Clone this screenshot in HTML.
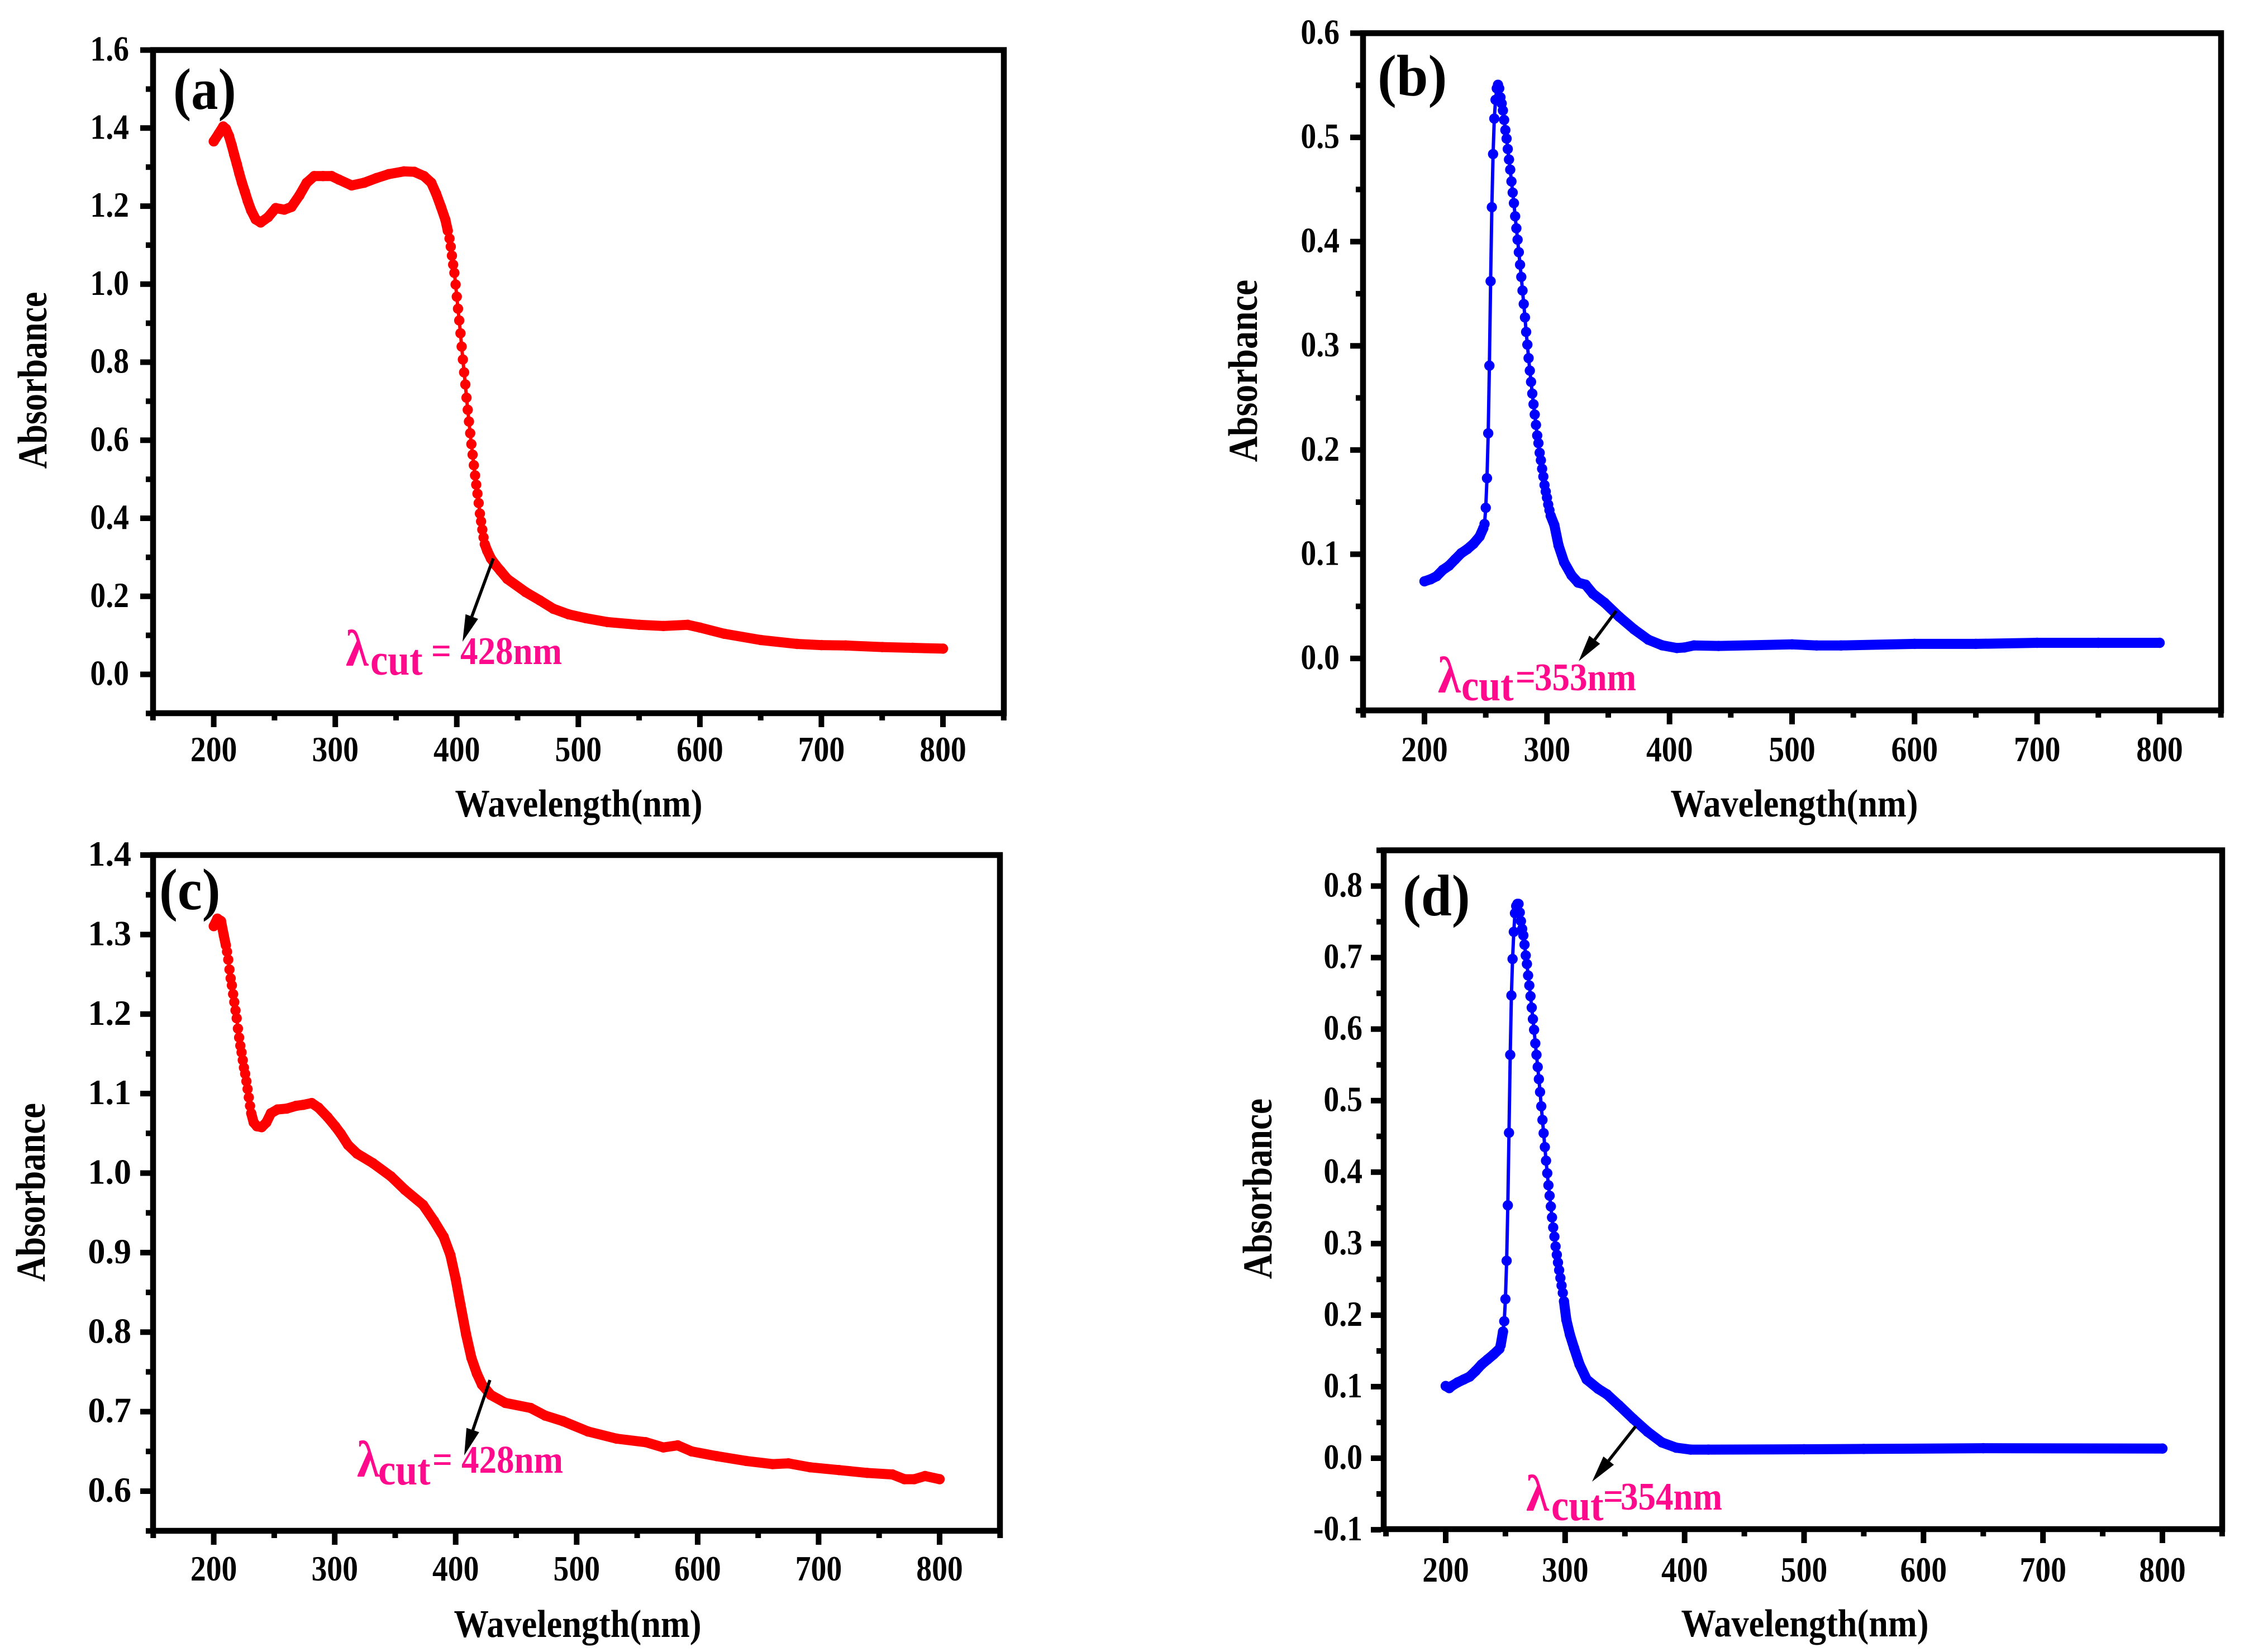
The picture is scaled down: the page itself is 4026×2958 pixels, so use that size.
<!DOCTYPE html>
<html lang="en">
<head>
<meta charset="utf-8">
<title>UV-Vis absorbance spectra</title>
<style>
html,body{margin:0;padding:0;background:#fff;}
svg{display:block;}
text{font-family:"Liberation Serif","DejaVu Serif",serif;font-weight:bold;}
</style>
</head>
<body>
<svg id="figure" xmlns="http://www.w3.org/2000/svg" width="4026" height="2958" viewBox="0 0 4026 2958">
<rect x="0" y="0" width="4026" height="2958" fill="#fff"/>

<text transform="translate(310,195) scale(.92,1)" font-size="105" fill="#000">(a)</text>
<text transform="translate(2466,171) scale(.97,1)" font-size="105" fill="#000">(b)</text>
<text transform="translate(285,1628) scale(.94,1)" font-size="105" fill="#000">(c)</text>
<text transform="translate(2511,1639) scale(.94,1)" font-size="105" fill="#000">(d)</text>

<g id="overlays" fill="#ff0a8c">
<g>
<text transform="translate(619,1192) scale(.9,1)" font-size="92">λ</text>
<text transform="translate(663,1208) scale(.9,1)" font-size="78">cut</text>
<text transform="translate(772,1189) scale(.9,1)" font-size="70">=</text>
<text transform="translate(824,1189) scale(.9,1)" font-size="70">428nm</text>
</g>
<g>
<text transform="translate(2574,1240) scale(.9,1)" font-size="92">λ</text>
<text transform="translate(2616,1254) scale(.9,1)" font-size="78">cut</text>
<text transform="translate(2713,1236) scale(.9,1)" font-size="70">=</text>
<text transform="translate(2747,1236) scale(.9,1)" font-size="70">353nm</text>
</g>
<g>
<text transform="translate(639,2644) scale(.9,1)" font-size="92">λ</text>
<text transform="translate(677,2658) scale(.9,1)" font-size="78">cut</text>
<text transform="translate(774,2637) scale(.9,1)" font-size="70">=</text>
<text transform="translate(826,2637) scale(.9,1)" font-size="70">428nm</text>
</g>
<g>
<text transform="translate(2732,2705) scale(.9,1)" font-size="92">λ</text>
<text transform="translate(2777,2722) scale(.9,1)" font-size="78">cut</text>
<text transform="translate(2870,2703) scale(.9,1)" font-size="70">=</text>
<text transform="translate(2901,2703) scale(.9,1)" font-size="70">354nm</text>
</g>
</g>
</svg>
<script>
// ---------- tick labels ----------
var xTickLabels = ['200','300','400','500','600','700','800'];
var yTickLabelsA = ['0.0','0.2','0.4','0.6','0.8','1.0','1.2','1.4','1.6'];
var yTickLabelsB = ['0.0','0.1','0.2','0.3','0.4','0.5','0.6'];
var yTickLabelsC = ['0.6','0.7','0.8','0.9','1.0','1.1','1.2','1.3','1.4'];
var yTickLabelsD = ['-0.1','0.0','0.1','0.2','0.3','0.4','0.5','0.6','0.7','0.8'];

// ---------- series values ----------
var wavelengthsA = [200,204,207.8,210,212.5,214.8,216.8,219,221,223.2,225.6,228,230.8,234.5,238.6,244.8,251,258,264,270.4,276.5,282.7,290,297,303,313.5,323.8,334,344,356.6,365,373,379,383,387,390.6,392.6,394,395,396,397,398,399,400,401,402,403,404,405,406,407,408,409,410,411,412,413,414,415,416,417,418,419,420,421,422,423,425,428,432,436,441.6,456.6,468.3,479.5,492,506,524,550,570,590,600,620,650,680,700,720,750,775,800];
var absorbanceA = [1.366,1.385,1.404,1.398,1.38,1.356,1.332,1.308,1.284,1.26,1.237,1.213,1.189,1.166,1.158,1.172,1.195,1.191,1.198,1.227,1.26,1.277,1.277,1.277,1.268,1.253,1.26,1.272,1.282,1.289,1.288,1.277,1.26,1.232,1.198,1.165,1.137,1.117,1.096,1.073,1.05,1.029,.999,.968,.937,.907,.874,.84,.807,.774,.743,.709,.678,.648,.618,.59,.563,.536,.51,.486,.463,.439,.412,.392,.371,.351,.3335,.317,.297,.28,.265,.2444,.211,.1896,.168,.1539,.144,.134,.127,.124,.127,.12,.104,.088,.078,.075,.074,.07,.068,.066];

var wavelengthsB = [200,205,210,215,220,225,230,235,240,245,248,249,250,251,252,253,254,255,256,257,258,259,260,261,262,263,264,265,266,267,268,269,270,271,272,273,274,275,276,277,278,279,280,281,282,283,284,285,286,287,288,289,290,291,292,293,294,295,296,297,298,299,300,301,302,303,306,309.4,314,320,325.4,331.5,337.5,347,359,371,382.7,394,406,412,420,440,500,520,540,600,650,700,750,800];
var absorbanceB = [.074,.076,.079,.085,.089,.095,.101,.105,.110,.117,.125,.129,.1446,.173,.216,.281,.362,.433,.484,.518,.536,.547,.5505,.547,.5385,.5326,.5259,.5168,.507,.4988,.4888,.4788,.469,.4577,.447,.4369,.4243,.4128,.4018,.3898,.3778,.3661,.353,.3401,.3272,.3133,.3011,.2882,.2762,.2654,.2542,.2439,.2341,.2241,.214,.2066,.1973,.1902,.182,.1745,.1664,.1602,.1543,.1477,.1423,.137,.128,.1084,.0923,.0798,.0728,.0708,.0621,.0535,.04,.028,.018,.0126,.01,.0105,.0125,.012,.0135,.0125,.0125,.014,.014,.015,.015,.015];

var wavelengthsC = [200,203,206,208.3,210,211,212,213,214,215,216,217,218,219,220,221,222,223,224,225,226,227,228,229,230,231,233,235.7,239.6,243.5,247.3,252.7,260.4,268,274,281,286.6,294,300.4,305,311,318.5,331.6,346.4,358,373,382,390,395.6,400,404,408.6,413,417.5,421.7,429,441,462,474,488.7,509.4,533,557,571.7,583.5,595,616,640,662,675,693,717,740,761,771,779,788,800];
var absorbanceC = [1.3106,1.32,1.317,1.2989,1.2865,1.2785,1.2684,1.256,1.245,1.2361,1.2251,1.2151,1.2047,1.1947,1.1818,1.1705,1.1602,1.1518,1.142,1.1326,1.1249,1.1155,1.1057,1.0952,1.0846,1.0753,1.0636,1.0589,1.0577,1.0636,1.0753,1.08,1.0811,1.0846,1.0858,1.0881,1.0823,1.0706,1.0589,1.0495,1.0354,1.0245,1.0125,.996,.979,.96,.94,.92,.897,.867,.834,.797,.7675,.748,.734,.721,.711,.7046,.695,.688,.675,.666,.6616,.655,.6576,.65,.644,.638,.634,.635,.63,.6265,.623,.621,.615,.615,.619,.615];

var wavelengthsD = [200,203,205,210,215,220,225,230,235,240,245,246,248,249,250,251,252,253,254,255,256,257,258,259,260,261,262,263,264,265,266,267,268,269,270,271,272,273,274,275,276,277,278,279,280,281,282,283,284,285,286,287,288,289,290,291,292,293,294,295,296,297,298,299,301,304,307.4,312,318,327.6,335,345,357,369,381,393,405,420,500,550,650,800];
var absorbanceD = [.101,.098,.101,.106,.110,.114,.122,.131,.138,.145,.153,.158,.177,.1915,.2225,.276,.3536,.455,.564,.647,.698,.736,.762,.772,.775,.775,.763,.751,.74,.731,.718,.703,.691,.675,.661,.646,.63,.614,.599,.58,.564,.547,.53,.512,.492,.473,.4545,.435,.416,.3985,.3816,.367,.352,.3366,.3226,.3098,.2962,.2845,.2736,.2629,.252,.2415,.2311,.2194,.1934,.1726,.1544,.1312,.1101,.0971,.0893,.074,.055,.037,.022,.0147,.012,.012,.0125,.013,.014,.0135];

// ---------- drawing ----------
var svgNS = 'http://www.w3.org/2000/svg';
var root = document.getElementById('figure');
var overlays = document.getElementById('overlays');

function make(tag, parent, attrs) {
  var el = document.createElementNS(svgNS, tag);
  for (var k in attrs) el.setAttribute(k, attrs[k]);
  parent.appendChild(el);
  return el;
}

function linear(d0, d1, r0, r1) {
  return function (v) { return r0 + (v - d0) * (r1 - r0) / (d1 - d0); };
}

function drawPanel(p) {
  var xScale = linear(200, 800, p.x200, p.x800);
  var yScale = linear(p.refLow, p.refHigh, p.yRefLow, p.yRefHigh);

  var g = make('g', root, {});
  
  

  // series
  var series = make('g', g, {});
  
  
  var i, pts = [];
  for (i = 0; i < p.wave.length; i++) pts.push(xScale(p.wave[i]).toFixed(1) + ',' + yScale(p.abs[i]).toFixed(1));
  var line = make('polyline', series, {points: pts.join(' '), fill: 'none', stroke: p.color, 'stroke-width': 6, 'stroke-linejoin': 'round'});
  
  
  for (i = 1; i < p.wave.length; i++) {
    if (p.wave[i] - p.wave[i - 1] >= 1.5) {
      var band = make('line', series, {
        x1: xScale(p.wave[i - 1]).toFixed(1), y1: yScale(p.abs[i - 1]).toFixed(1),
        x2: xScale(p.wave[i]).toFixed(1), y2: yScale(p.abs[i]).toFixed(1),
        stroke: p.color, 'stroke-width': 18, 'stroke-linecap': 'round'
      });
      
      
    }
  }
  for (i = 0; i < p.wave.length; i++) {
    var dot = make('circle', series, {cx: xScale(p.wave[i]).toFixed(1), cy: yScale(p.abs[i]).toFixed(1), r: 9.2, fill: p.color});
    
    
  }

  // frame
  var frame = make('rect', g, {x: p.left, y: p.top, width: p.right - p.left, height: p.bottom - p.top, fill: 'none', stroke: '#000', 'stroke-width': 10.5});
  
  

  // x ticks
  var outerBottom = p.bottom + 5, outerLeft = p.left - 5;
  var v, t;
  for (v = 150; v <= 850; v += 50) {
    var isMajorX = (v % 100 === 0) && v >= 200 && v <= 800;
    t = make('line', g, {x1: xScale(v).toFixed(1), x2: xScale(v).toFixed(1), y1: outerBottom, y2: outerBottom + (isMajorX ? 20 : 8), stroke: '#000', 'stroke-width': 10});
    
    
  }
  xTickLabels.forEach(function (lab) {
    var el = make('text', g, {transform: 'translate(' + xScale(+lab).toFixed(1) + ',' + p.xLabelY + ') scale(.87,1)', 'font-size': 64, 'text-anchor': 'middle', fill: '#000'});
    el.textContent = lab;
    
    
  });

  // y ticks
  var n = Math.round((p.yHigh - p.yLow) / p.yStep);
  for (i = 0; i <= n; i++) {
    v = p.yLow + i * p.yStep;
    var isMajorY = p.yLabels.some(function (s) { return Math.abs(parseFloat(s) - v) < 1e-6; });
    t = make('line', g, {x1: outerLeft - (isMajorY ? 18 : 8), x2: outerLeft, y1: yScale(v).toFixed(1), y2: yScale(v).toFixed(1), stroke: '#000', 'stroke-width': 10});
    
    
  }
  p.yLabels.forEach(function (lab) {
    var el = make('text', g, {transform: 'translate(' + p.yLabelRight + ',' + (yScale(parseFloat(lab)) + 19).toFixed(1) + ') scale(' + p.yLabelSx + ',1)', 'font-size': 64, 'text-anchor': 'end', fill: '#000'});
    el.textContent = lab;
    
    
  });

  // axis titles
  var xt = make('text', g, {transform: 'translate(' + p.xTitleX + ',' + p.xTitleY + ') scale(.89,1)', 'font-size': 70, 'text-anchor': 'middle', fill: '#000'});
  xt.textContent = 'Wavelength(nm)';
  
  
  var yt = make('text', g, {transform: 'translate(' + p.yTitleX + ',' + p.yTitleY + ') rotate(-90) scale(' + p.yTitleS + ',1.2)', 'font-size': 62, 'text-anchor': 'middle', fill: '#000'});
  yt.textContent = 'Absorbance';
  
  

  // arrow
  var dx = p.arrow.x2 - p.arrow.x1, dy = p.arrow.y2 - p.arrow.y1, len = Math.sqrt(dx * dx + dy * dy);
  var ux = dx / len, uy = dy / len, hl = 48, hw = 12;
  var bx = p.arrow.x2 - ux * hl, by = p.arrow.y2 - uy * hl;
  var shaft = make('line', overlays, {x1: p.arrow.x1, y1: p.arrow.y1, x2: bx.toFixed(1), y2: by.toFixed(1), stroke: '#000', 'stroke-width': 5.5});
  
  
  var head = make('polygon', overlays, {
    points: p.arrow.x2 + ',' + p.arrow.y2 + ' ' + (bx - uy * hw).toFixed(1) + ',' + (by + ux * hw).toFixed(1) + ' ' + (bx + uy * hw).toFixed(1) + ',' + (by - ux * hw).toFixed(1),
    fill: '#000'
  });
  
  
}

drawPanel({wave: wavelengthsA, abs: absorbanceA, color: '#ff0000', yLabels: yTickLabelsA,
  left: 274, right: 1797, top: 89.6, bottom: 1277, x200: 382.6, x800: 1688,
  refLow: 0, refHigh: 1.6, yRefLow: 1207.5, yRefHigh: 89.6, yLow: -0.1, yHigh: 1.6, yStep: 0.1,
  xLabelY: 1363, yLabelRight: 231, yLabelSx: .87, xTitleX: 1036, xTitleY: 1462, yTitleX: 83, yTitleY: 681, yTitleS: 1,
  arrow: {x1: 883, y1: 1000, x2: 828, y2: 1149}});

drawPanel({wave: wavelengthsB, abs: absorbanceB, color: '#0000ff', yLabels: yTickLabelsB,
  left: 2440, right: 3976, top: 59.4, bottom: 1272, x200: 2550, x800: 3866,
  refLow: 0, refHigh: 0.6, yRefLow: 1179, yRefHigh: 59.4, yLow: -0.05, yHigh: 0.6, yStep: 0.05,
  xLabelY: 1363, yLabelRight: 2398, yLabelSx: .87, xTitleX: 3212, xTitleY: 1462, yTitleX: 2250, yTitleY: 664, yTitleS: 1.03,
  arrow: {x1: 2893, y1: 1094, x2: 2826, y2: 1184}});

drawPanel({wave: wavelengthsC, abs: absorbanceC, color: '#ff0000', yLabels: yTickLabelsC,
  left: 274, right: 1790, top: 1531, bottom: 2741, x200: 382.6, x800: 1682,
  refLow: 0.6, refHigh: 1.4, yRefLow: 2670, yRefHigh: 1531, yLow: 0.55, yHigh: 1.4, yStep: 0.05,
  xLabelY: 2830, yLabelRight: 235, yLabelSx: .97, xTitleX: 1034, xTitleY: 2931, yTitleX: 80, yTitleY: 2135, yTitleS: 1.01,
  arrow: {x1: 877, y1: 2471, x2: 831, y2: 2606}});

drawPanel({wave: wavelengthsD, abs: absorbanceD, color: '#0000ff', yLabels: yTickLabelsD,
  left: 2477, right: 3978, top: 1522.5, bottom: 2738, x200: 2588, x800: 3871,
  refLow: 0, refHigh: 0.8, yRefLow: 2611, yRefHigh: 1586.5, yLow: -0.1, yHigh: 0.85, yStep: 0.05,
  xLabelY: 2832, yLabelRight: 2439, yLabelSx: .87, xTitleX: 3231, xTitleY: 2930, yTitleX: 2276, yTitleY: 2128.5, yTitleS: 1.02,
  arrow: {x1: 2928, y1: 2554, x2: 2850, y2: 2653}});

root.appendChild(overlays);
</script>
</body>
</html>
